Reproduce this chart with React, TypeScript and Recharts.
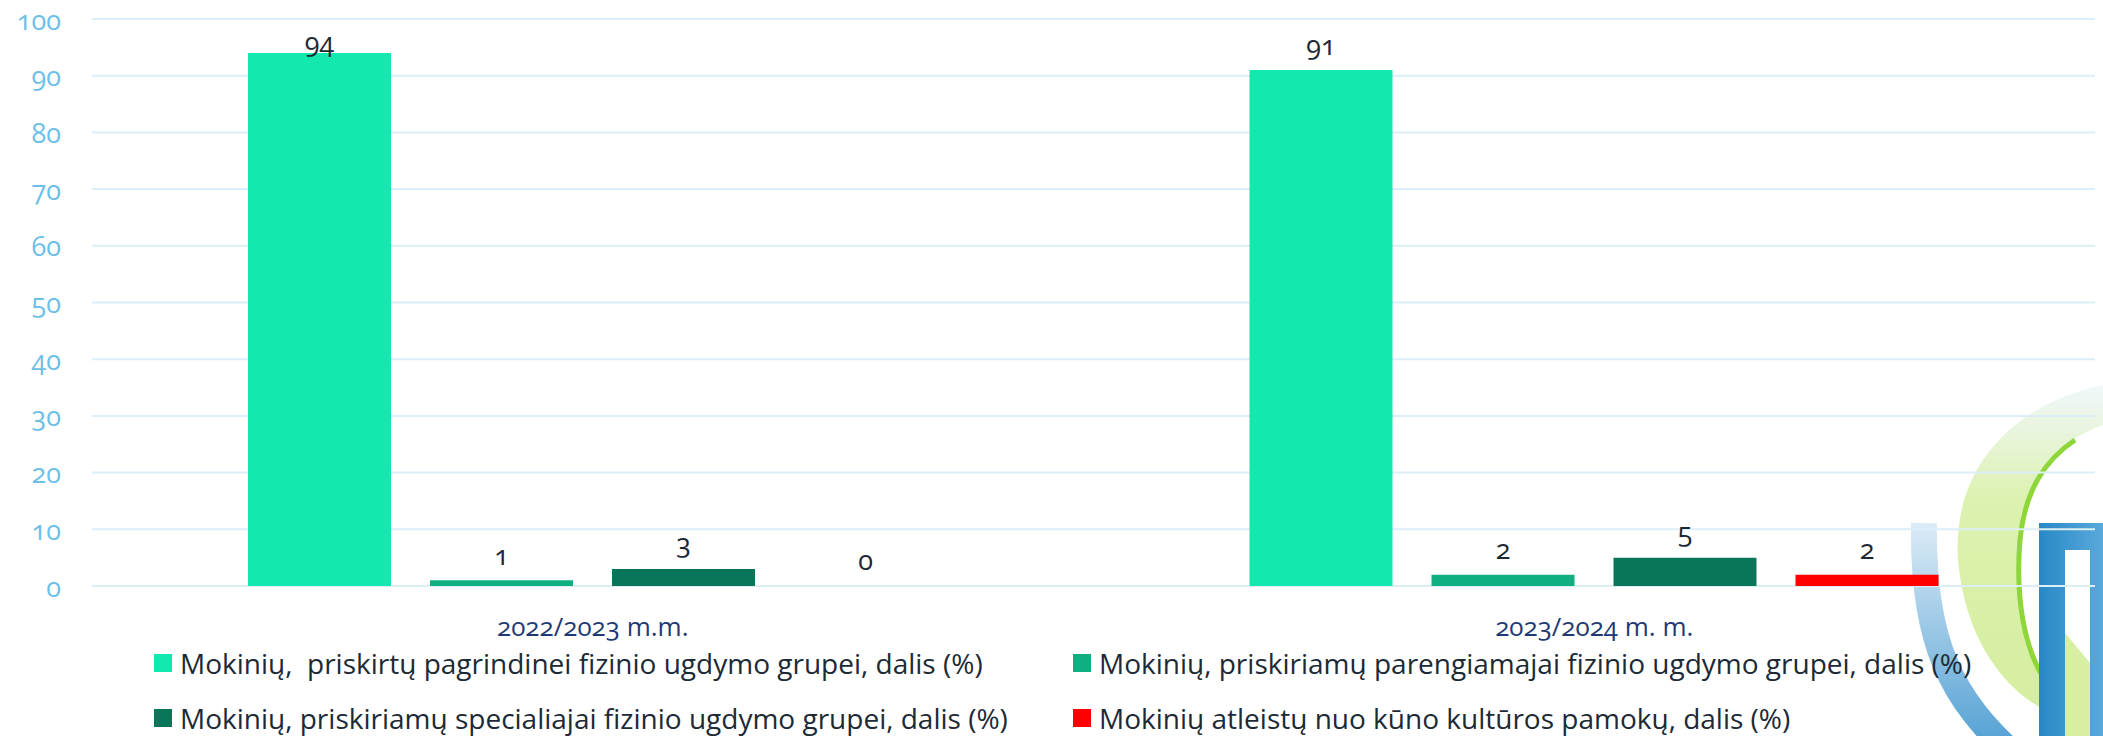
import { Bar, BarChart, CartesianGrid, LabelList, Legend, XAxis, YAxis } from "recharts";

const categories = ["2022/2023 m.m.", "2023/2024 m. m."];
const pagrindine = [94, 91];
const parengiamoji = [1, 2];
const specialioji = [3, 5];
const atleisti = [0, 2];
const yTicks = [0, 10, 20, 30, 40, 50, 60, 70, 80, 90, 100];

const seriesNames = [
  "Mokinių,  priskirtų pagrindinei fizinio ugdymo grupei, dalis (%)",
  "Mokinių, priskiriamų parengiamajai fizinio ugdymo grupei, dalis (%)",
  "Mokinių, priskiriamų specialiajai fizinio ugdymo grupei, dalis (%)",
  "Mokinių atleistų nuo kūno kultūros pamokų, dalis (%)",
];
const seriesColors = ["#13E9AF", "#10AE81", "#0A7659", "#FF0000"];

const data = categories.map((name, i) => ({
  name,
  s0: pagrindine[i],
  s1: parengiamoji[i],
  s2: specialioji[i],
  s3: atleisti[i],
}));

const FONT = "'Open Sans', Lato, sans-serif";
const W = 2103;
const H = 736;

function ValueLabel(props: any) {
  const { x, y, width, value } = props;
  const cy = Math.max(Number(y) - 26, 41);
  return (
    <text
      x={Number(x) + Number(width) / 2}
      y={cy}
      textAnchor="middle"
      dominantBaseline="central"
      fill="#1B2733"
      fontSize={27}
      fontFamily={FONT}
      style={{ fontVariantNumeric: "oldstyle-nums" }}
    >
      {value}
    </text>
  );
}

// axis sits at x=92; labels end 31px left of it
function YTick({ x, y, payload }: any) {
  return (
    <text
      x={Number(x) - 31}
      y={y}
      textAnchor="end"
      dominantBaseline="central"
      fill="#6DBFE8"
      fontSize={27}
      fontFamily={FONT}
      style={{ fontVariantNumeric: "oldstyle-nums" }}
    >
      {payload.value}
    </text>
  );
}

function XTick({ x, y, payload }: any) {
  return (
    <text
      x={x}
      y={Number(y) + 40}
      textAnchor="middle"
      dominantBaseline="central"
      fill="#1F3A73"
      fontSize={26}
      fontFamily={FONT}
      style={{ fontVariantNumeric: "oldstyle-nums" }}
    >
      {payload.value}
    </text>
  );
}

function LegendBox() {
  return (
    <div style={{ position: "relative", width: W, height: 90, fontFamily: FONT }}>
      {seriesNames.map((name, i) => {
        const col = i % 2;
        const row = Math.floor(i / 2);
        return (
          <div
            key={name}
            style={{
              position: "absolute",
              left: col === 0 ? 154 : 1073,
              top: row === 0 ? 0 : 55,
              height: 36,
              display: "flex",
              alignItems: "center",
              whiteSpace: "pre",
              fontSize: 28,
              color: "#1C2A36",
            }}
          >
            <span style={{ width: 18, height: 18, background: seriesColors[i], marginRight: 8, flexShrink: 0 }} />
            <span>{name}</span>
          </div>
        );
      })}
    </div>
  );
}

function Logo() {
  return (
    <svg width={W} height={H} style={{ position: "absolute", left: 0, top: 0 }}>
      <defs>
        <linearGradient id="arcBlue" x1="0" y1="0" x2="0" y2="1">
          <stop offset="0" stopColor="#DCEBF6" />
          <stop offset="1" stopColor="#4A9CD2" />
        </linearGradient>
        <linearGradient id="rectBlue" x1="0" y1="0" x2="1" y2="0">
          <stop offset="0" stopColor="#2788C7" />
          <stop offset="1" stopColor="#5AAADB" />
        </linearGradient>
        <linearGradient id="greenFade" x1="0" y1="0" x2="0" y2="1">
          <stop offset="0" stopColor="#EEF6FB" />
          <stop offset="0.35" stopColor="#D6EFA2" />
          <stop offset="1" stopColor="#CDEB8E" />
        </linearGradient>
      </defs>
      <path
        d="M 2103 385 C 2010 405, 1952 470, 1958 560 C 1965 640, 2005 690, 2045 710 L 2045 680 C 2025 650, 2015 600, 2020 540 C 2025 475, 2060 440, 2103 425 Z"
        fill="url(#greenFade)"
        opacity={0.85}
      />
      <path
        d="M 2045 680 C 2025 650, 2015 600, 2020 540 C 2025 490, 2045 460, 2075 440"
        fill="none"
        stroke="#8ED63A"
        strokeWidth={5}
      />
      <path
        d="M 1924 523 C 1922 640, 1950 700, 2020 760"
        fill="none"
        stroke="url(#arcBlue)"
        strokeWidth={26}
      />
      <rect x={2039} y={523} width={64} height={213} fill="url(#rectBlue)" />
      <rect x={2065} y={550} width={25} height={186} fill="#FFFFFF" />
      <polygon points="2065,633 2090,663 2090,736 2065,736" fill="#D6EFA2" />
    </svg>
  );
}

export default function App() {
  return (
    <div style={{ position: "absolute", left: 0, top: 0, width: W, height: H, background: "#FFFFFF" }}>
      <Logo />
      <div style={{ position: "absolute", left: 0, top: 0 }}>
        <BarChart
          width={W}
          height={H}
          data={data}
          margin={{ top: 19, right: 8, left: 0, bottom: 90 }}
          barSize={143}
          barGap={39}
        >
          <CartesianGrid vertical={false} stroke="#DCEEF8" strokeWidth={2} />
          <XAxis
            dataKey="name"
            axisLine={false}
            tickLine={false}
            height={60}
            tickSize={0}
            tickMargin={0}
            tick={<XTick />}
          />
          <YAxis
            domain={[0, 100]}
            ticks={yTicks}
            width={92}
            axisLine={false}
            tickLine={false}
            tickSize={0}
            tickMargin={0}
            tick={<YTick />}
          />
          <Legend
            layout="horizontal"
            verticalAlign="middle"
            align="center"
            wrapperStyle={{ top: 645, left: 0, width: W }}
            content={<LegendBox />}
          />
          {seriesNames.map((n, i) => (
            <Bar
              key={n}
              dataKey={`s${i}`}
              name={n}
              fill={seriesColors[i]}
              minPointSize={(v: number) => (v === 0 ? 0.01 : 0)}
              isAnimationActive={false}
            >
              <LabelList dataKey={`s${i}`} content={<ValueLabel />} />
            </Bar>
          ))}
        </BarChart>
      </div>
    </div>
  );
}
